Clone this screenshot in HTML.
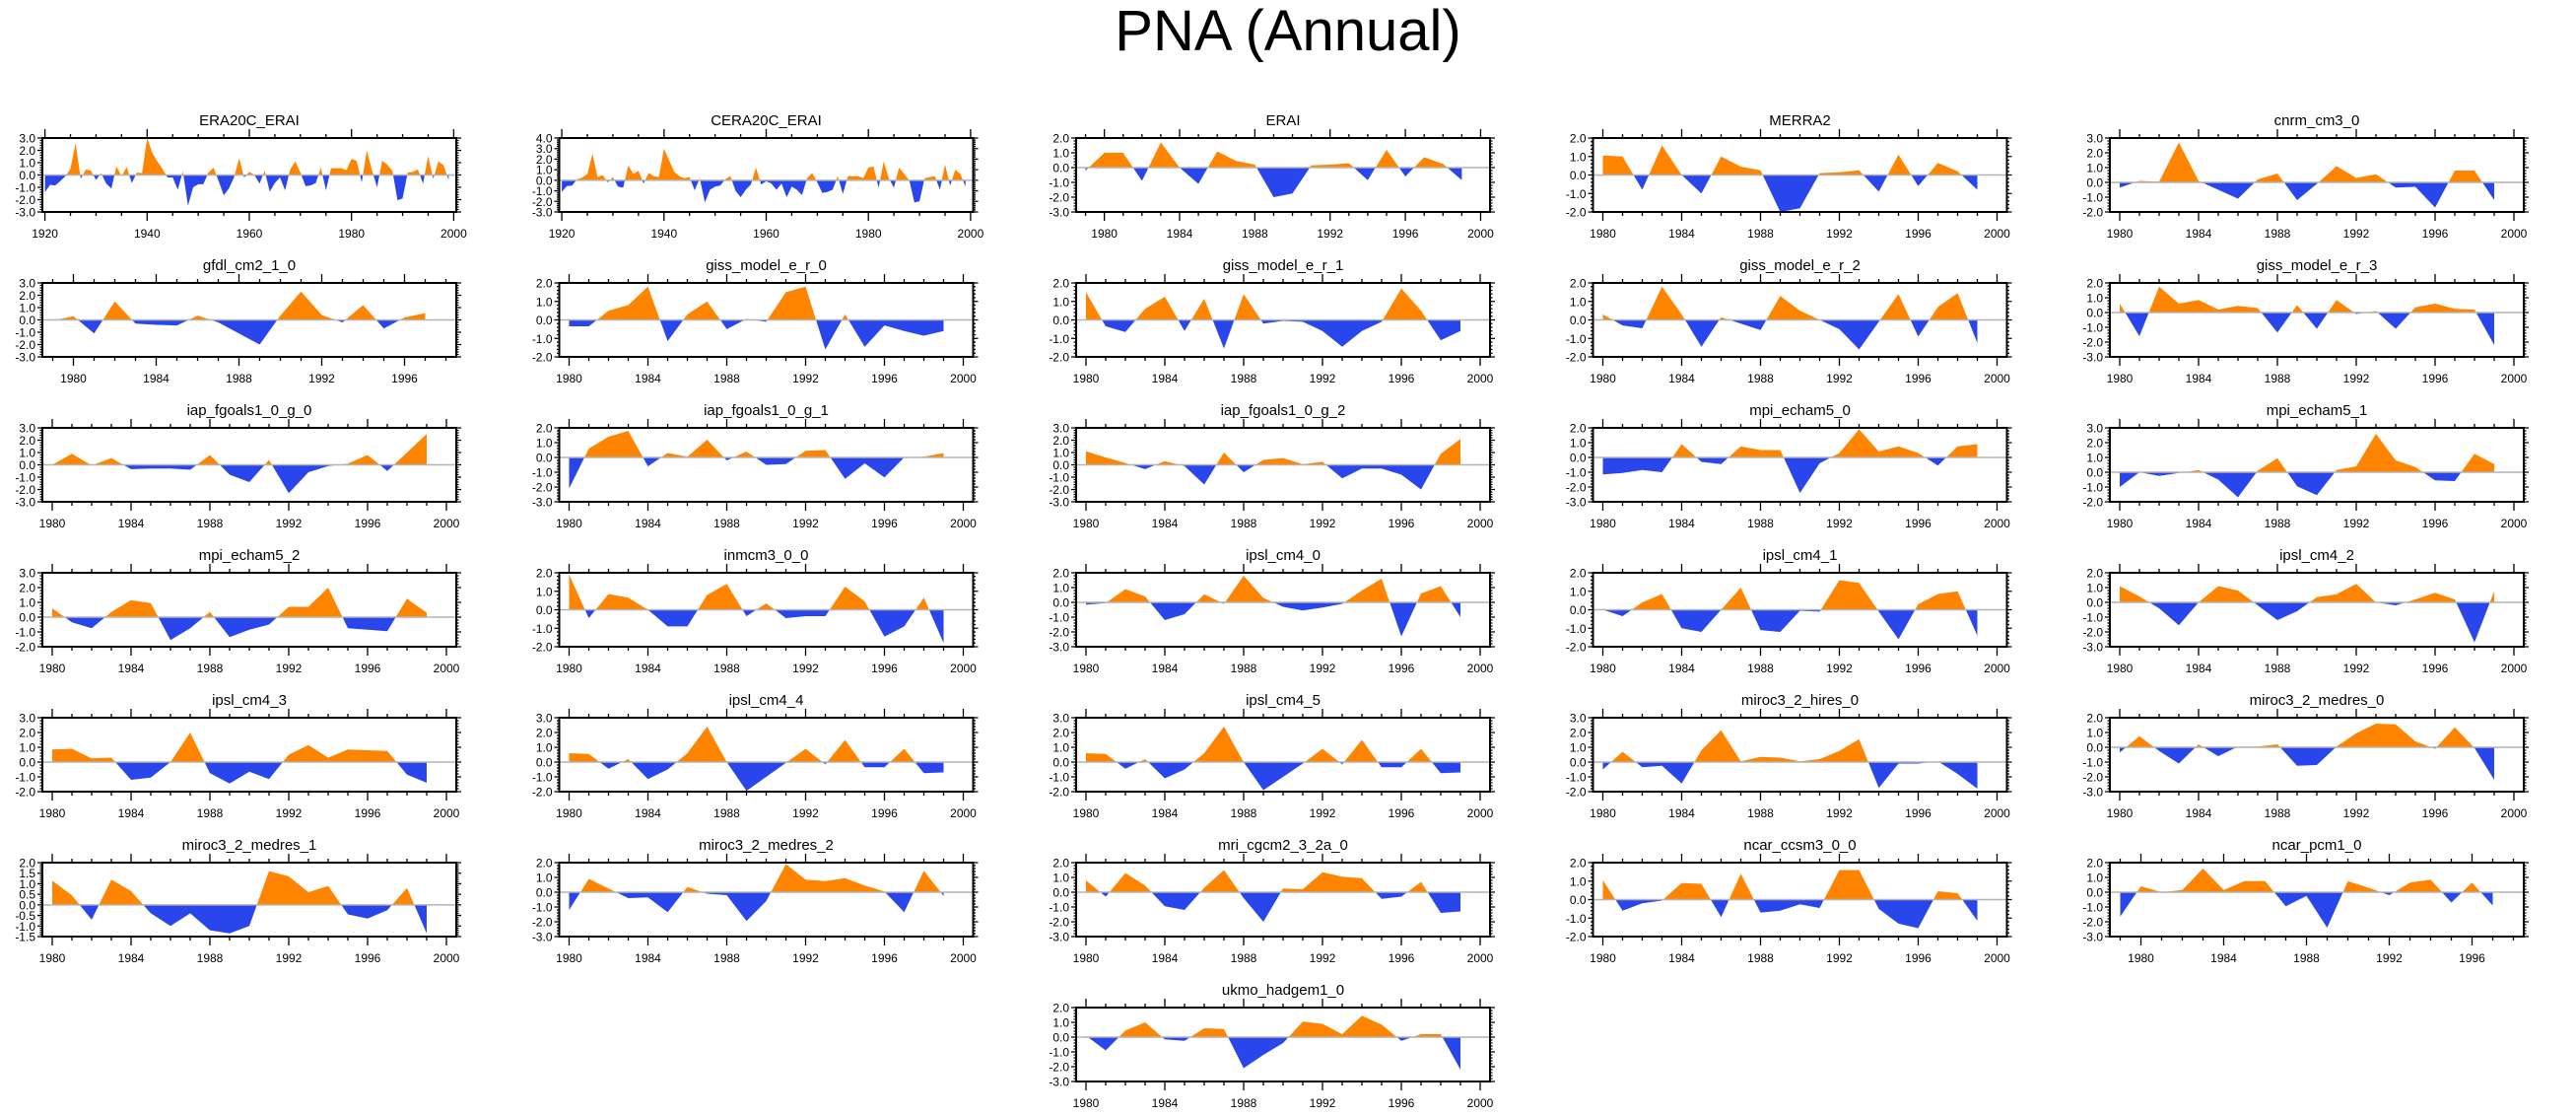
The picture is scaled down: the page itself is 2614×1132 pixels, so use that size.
<!DOCTYPE html>
<html><head><meta charset="utf-8"><style>
html,body{margin:0;padding:0;background:#fff;}
svg{display:block;font-family:"Liberation Sans",Arial,sans-serif;}
</style></head><body>
<svg id="fig" width="2614" height="1132" viewBox="0 0 2614 1132" xmlns="http://www.w3.org/2000/svg">
<text x="1307" y="51" font-size="58" text-anchor="middle">PNA (Annual)</text>
</svg>
<script>
const panelNames = ["ERA20C_ERAI","CERA20C_ERAI","ERAI","MERRA2","cnrm_cm3_0","gfdl_cm2_1_0","giss_model_e_r_0","giss_model_e_r_1","giss_model_e_r_2","giss_model_e_r_3","iap_fgoals1_0_g_0","iap_fgoals1_0_g_1","iap_fgoals1_0_g_2","mpi_echam5_0","mpi_echam5_1","mpi_echam5_2","inmcm3_0_0","ipsl_cm4_0","ipsl_cm4_1","ipsl_cm4_2","ipsl_cm4_3","ipsl_cm4_4","ipsl_cm4_5","miroc3_2_hires_0","miroc3_2_medres_0","miroc3_2_medres_1","miroc3_2_medres_2","mri_cgcm2_3_2a_0","ncar_ccsm3_0_0","ncar_pcm1_0","ukmo_hadgem1_0"];
const startYears = [1920,1920,1979,1980,1980,1979,1980,1980,1980,1980,1980,1980,1980,1980,1980,1980,1980,1980,1980,1980,1980,1980,1980,1980,1980,1980,1980,1980,1980,1979,1980];
const yMins = [-3,-3,-3,-2,-2,-3,-2,-2,-2,-3,-3,-3,-3,-3,-2,-2,-2,-3,-2,-3,-2,-2,-2,-2,-3,-1.5,-3,-3,-2,-3,-3];
const yMaxs = [3,4,2,2,3,3,2,2,2,2,3,2,3,2,3,3,2,2,2,2,3,3,3,3,2,2,2,2,2,2,2];
const v_era20c = [-1.4,-0.8,-0.85,-0.5,-0.1,0.5,2.6,-0.3,0.45,0.35,-0.4,0.15,-0.7,-1.1,0.7,-0.1,0.65,-0.65,0.2,0.15,3.0,1.8,1.1,0.5,-0.2,-0.2,-1.2,0.3,-2.5,-1.0,-0.75,-0.75,0.2,0.6,-0.5,-1.65,-1.1,-0.2,1.35,-0.2,0.25,0.0,-0.7,0.35,-1.35,-0.65,-0.2,-1.25,0.45,1.1,0.2,-0.9,-0.85,-0.65,0.6,-1.25,0.55,0.55,0.55,0.4,1.3,1.15,-0.6,2.0,0.4,-1.0,1.15,0.85,0.35,-2.05,-1.9,0.2,0.25,0.45,-0.7,1.55,-0.3,1.1,0.8,-0.4];
const v_cera20c = [-1.1,-0.55,-0.5,0.1,0.25,0.6,2.5,0.3,0.5,-0.2,0.3,-0.6,-0.7,1.4,0.6,0.9,-0.3,0.7,0.4,0.3,3.0,1.9,0.8,0.4,0.2,0.3,-0.95,0.2,-2.1,-0.9,-0.6,-0.5,0.1,0.4,-1.0,-1.6,-0.9,-0.4,1.2,-0.4,-0.1,-0.3,-0.9,-0.3,-1.6,-0.6,-0.9,-1.4,0.2,0.7,-0.2,-1.2,-1.1,-0.9,0.4,-1.3,0.4,0.4,0.4,0.2,1.2,1.3,-0.7,1.8,0.2,-0.7,1.2,0.6,0.0,-2.1,-2.0,0.2,0.3,0.4,-0.9,1.5,-0.5,1.0,0.6,-0.6];
const v_erai = [-0.2,1.0,1.0,-0.9,1.7,0.0,-1.1,1.1,0.45,0.2,-2.0,-1.75,0.15,0.2,0.3,-0.85,1.2,-0.6,0.7,0.25,-0.85];
const v_merra2 = [1.05,1.0,-0.8,1.6,0.0,-1.0,1.0,0.45,0.25,-2.0,-1.8,0.1,0.15,0.25,-0.9,1.1,-0.6,0.65,0.2,-0.8];
const v_cnrm = [-0.35,0.1,0.05,2.7,0.1,-0.5,-1.1,0.2,0.6,-1.2,-0.1,1.1,0.3,0.55,-0.35,-0.3,-1.7,0.8,0.8,-1.2];
const v_gfdl = [-0.05,0.3,-1.1,1.5,-0.3,-0.4,-0.45,0.35,-0.2,-1.1,-2.0,0.35,2.3,0.4,-0.2,1.2,-0.7,0.2,0.55];
const v_giss0 = [-0.35,-0.35,0.5,0.8,1.8,-1.15,0.3,1.0,-0.5,0.05,-0.1,1.5,1.8,-1.6,0.3,-1.45,-0.3,-0.6,-0.85,-0.6];
const v_giss1 = [1.5,-0.35,-0.65,0.6,1.25,-0.6,1.15,-1.55,1.4,-0.2,-0.05,-0.1,-0.6,-1.45,-0.6,-0.1,1.7,0.5,-1.1,-0.6];
const v_giss2 = [0.3,-0.3,-0.45,1.8,0.3,-1.45,0.15,-0.2,-0.55,1.3,0.5,0.0,-0.5,-1.6,-0.1,1.4,-0.9,0.7,1.45,-1.25];
const v_giss3 = [0.6,-1.6,1.75,0.6,0.85,0.2,0.45,0.3,-1.35,0.5,-1.1,0.85,-0.1,0.1,-1.1,0.35,0.6,0.25,0.2,-2.2];
const v_iap0 = [0.0,0.9,-0.05,0.55,-0.35,-0.3,-0.3,-0.4,0.8,-0.8,-1.4,0.4,-2.3,-0.6,-0.1,0.1,0.8,-0.5,1.0,2.5];
const v_iap1 = [-2.1,0.6,1.4,1.8,-0.6,0.3,0.05,1.2,-0.2,0.4,-0.5,-0.45,0.45,0.5,-1.45,-0.4,-1.35,0.0,0.05,0.3];
const v_iap2 = [1.1,0.6,0.15,-0.35,0.3,-0.1,-1.6,1.0,-0.6,0.4,0.55,0.05,0.25,-1.1,-0.3,-0.3,-0.8,-2.0,0.9,2.1];
const v_mpi0 = [-1.15,-1.05,-0.85,-1.0,0.9,-0.3,-0.45,0.75,0.5,0.5,-2.4,-0.4,0.3,1.9,0.4,0.75,0.3,-0.55,0.75,0.9];
const v_mpi1 = [-1.0,0.0,-0.25,-0.05,0.15,-0.5,-1.7,0.1,0.95,-0.95,-1.55,0.15,0.4,2.6,0.8,0.35,-0.55,-0.6,1.25,0.55];
const v_mpi2 = [0.6,-0.35,-0.75,0.35,1.15,0.95,-1.55,-0.75,0.35,-1.35,-0.85,-0.5,0.7,0.7,2.0,-0.75,-0.85,-0.95,1.25,0.3];
const v_inmcm3 = [1.9,-0.45,0.85,0.65,0.0,-0.9,-0.9,0.8,1.4,-0.35,0.35,-0.45,-0.35,-0.35,1.25,0.45,-1.45,-0.9,0.65,-1.8];
const v_ipsl0 = [-0.15,-0.05,0.9,0.4,-1.2,-0.8,0.55,-0.1,1.8,0.3,-0.3,-0.55,-0.35,-0.1,0.8,1.6,-2.3,0.6,1.1,-1.0];
const v_ipsl1 = [0.0,-0.35,0.4,0.85,-1.0,-1.2,0.0,1.2,-1.1,-1.2,-0.05,-0.1,1.6,1.45,-0.1,-1.6,0.3,0.85,1.0,-1.4];
const v_ipsl2 = [1.1,0.4,-0.4,-1.55,0.0,1.1,0.8,-0.2,-1.2,-0.6,0.35,0.55,1.25,0.0,-0.2,0.2,0.65,0.2,-2.7,0.75];
const v_ipsl3 = [0.85,0.9,0.25,0.3,-1.2,-1.05,0.0,2.0,-0.75,-1.45,-0.65,-1.15,0.5,1.15,0.3,0.85,0.8,0.75,-0.85,-1.4];
const v_ipsl4 = [0.6,0.55,-0.45,0.2,-1.15,-0.5,0.6,2.4,0.0,-1.95,-1.0,-0.05,0.9,-0.15,1.5,-0.35,-0.35,0.9,-0.75,-0.7];
const v_ipsl5 = [0.6,0.55,-0.45,0.2,-1.1,-0.5,0.6,2.4,0.0,-1.9,-1.0,-0.1,0.9,-0.15,1.5,-0.35,-0.35,0.9,-0.75,-0.7];
const v_mirochi = [-0.5,0.7,-0.35,-0.25,-1.45,0.8,2.15,0.05,0.35,0.3,0.05,0.2,0.75,1.55,-1.75,-0.1,-0.1,0.05,-0.8,-1.8];
const v_mirocmed0 = [-0.35,0.75,-0.25,-1.1,0.2,-0.6,0.05,0.05,0.2,-1.25,-1.2,0.05,0.95,1.6,1.55,0.4,-0.1,1.35,-0.05,-2.2];
const v_mirocmed1 = [1.15,0.45,-0.7,1.2,0.65,-0.4,-1.0,-0.4,-1.2,-1.35,-1.0,1.6,1.35,0.6,0.9,-0.45,-0.65,-0.25,0.8,-1.35];
const v_mirocmed2 = [-1.2,0.9,0.25,-0.4,-0.35,-1.35,0.35,-0.1,-0.2,-1.95,-0.6,1.9,0.85,0.75,0.95,0.45,0.05,-1.35,1.45,-0.25];
const v_mri = [0.8,-0.3,1.3,0.45,-0.95,-1.2,0.3,1.5,-0.4,-2.0,0.25,0.2,1.35,1.05,0.95,-0.45,-0.3,0.7,-1.4,-1.3];
const v_ccsm3 = [1.05,-0.6,-0.2,-0.05,0.9,0.85,-0.95,1.4,-0.7,-0.6,-0.25,-0.45,1.6,1.6,-0.5,-1.3,-1.55,0.45,0.35,-1.15];
const v_pcm1 = [-1.65,0.4,0.0,0.15,1.6,0.15,0.75,0.75,-0.95,-0.25,-2.4,0.75,0.3,-0.2,0.65,0.85,-0.7,0.65,-0.9];
const v_ukmo = [0.1,-0.9,0.45,1.0,-0.15,-0.25,0.6,0.55,-2.1,-1.2,-0.4,1.05,0.9,0.2,1.45,0.85,-0.25,0.2,0.2,-2.2];
const allValues = [v_era20c,v_cera20c,v_erai,v_merra2,v_cnrm,v_gfdl,v_giss0,v_giss1,v_giss2,v_giss3,v_iap0,v_iap1,v_iap2,v_mpi0,v_mpi1,v_mpi2,v_inmcm3,v_ipsl0,v_ipsl1,v_ipsl2,v_ipsl3,v_ipsl4,v_ipsl5,v_mirochi,v_mirocmed0,v_mirocmed1,v_mirocmed2,v_mri,v_ccsm3,v_pcm1,v_ukmo];

const NS = "http://www.w3.org/2000/svg";
const svg = document.getElementById('fig');
function mk(tag, attrs, parent){ const e=document.createElementNS(NS,tag); for(const k in attrs) e.setAttribute(k,attrs[k]); (parent||svg).appendChild(e); return e; }

const BOXW=420, BOXH=75, COL0=43, COLP=524.5, ROW0=140, ROWP=147;

allValues.forEach((vals, p) => {
  let row, col;
  if (p < 30) { row = Math.floor(p/5); col = p%5; } else { row = 6; col = 2; }
  const L = COL0 + col*COLP, T = ROW0 + row*ROWP, R = L+BOXW, B = T+BOXH;
  const start = startYears[p], end = start + vals.length - 1;
  const xMin = start - 0.5, xMax = end + 1.5;
  const yMin = yMins[p], yMax = yMaxs[p];
  const xs = yr => L + (yr - xMin)/(xMax - xMin)*BOXW;
  const ys = v => B - (v - yMin)/(yMax - yMin)*BOXH;
  const g = mk('g', {});
  
  

  const t = mk('text', {x:(L+R)/2, y:T-13, 'font-size':15, 'text-anchor':'middle'}, g);
  
  
  t.textContent = panelNames[p];

  // fills
  [1,-1].forEach(s => {
    const pts = [[xs(start), ys(0)]];
    for (let i=0;i<vals.length;i++){
      const v = vals[i];
      if (i>0){
        const u = vals[i-1];
        if ((u>0 && v<0) || (u<0 && v>0)){
          const f = u/(u-v);
          pts.push([xs(start+i-1+f), ys(0)]);
        }
      }
      const c = s>0 ? Math.max(v,0) : Math.min(v,0);
      pts.push([xs(start+i), ys(c)]);
    }
    pts.push([xs(end), ys(0)]);
    const poly = mk('polygon', {points: pts.map(q=>q[0].toFixed(2)+','+q[1].toFixed(2)).join(' '), fill: s>0?'#ff8500':'#2946ec'}, g);
    
    
  });
  const zl = mk('line', {x1:L, x2:R, y1:ys(0), y2:ys(0), stroke:'#b4b4b4', 'stroke-width':1.5}, g);
  
  

  // x ticks
  const long = (end - start) > 40;
  const majStep = long ? 20 : 4, minStep = long ? 5 : 1;
  let tp = '';
  for (let yr = Math.ceil(xMin); yr <= xMax; yr++){
    if (yr % minStep) continue;
    const x = xs(yr), major = yr % majStep === 0, len = major ? 9 : 4;
    tp += `M${x},${T}v${-len}M${x},${B}v${len}`;
    if (major){
      const lb = mk('text', {x:x, y:B+26, 'font-size':12, 'text-anchor':'middle'}, g);
      
      
      lb.textContent = yr;
    }
  }
  // y ticks
  const ymaj = (yMin % 1 !== 0) ? 0.5 : 1.0, ymin = ymaj/5;
  const nsteps = Math.round((yMax - yMin)/ymin);
  for (let k=0;k<=nsteps;k++){
    const v = yMin + k*ymin, y = ys(v);
    const major = Math.abs((v/ymaj) - Math.round(v/ymaj)) < 1e-6, len = major ? 5 : 2.5;
    tp += `M${L},${y}h${-len}M${R},${y}h${len}`;
    if (major){
      const lb = mk('text', {x:L-7, y:y+4.5, 'font-size':12, 'text-anchor':'end'}, g);
      
      
      lb.textContent = v.toFixed(1);
    }
  }
  const ticks = mk('path', {d:tp, stroke:'#000', 'stroke-width':1.3, fill:'none'}, g);
  
  
  const box = mk('rect', {x:L, y:T, width:BOXW, height:BOXH, fill:'none', stroke:'#000', 'stroke-width':2}, g);
  
  
});
</script>
</body></html>
